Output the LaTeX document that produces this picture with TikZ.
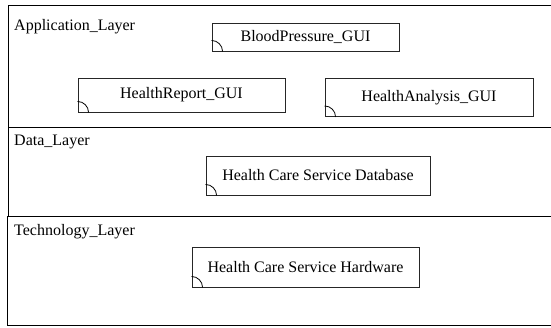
\documentclass[tikz,border=0pt]{standalone}
\usepackage{fontspec}
\setmainfont{Liberation Serif}
\begin{document}
\begin{tikzpicture}[x=1pt,y=1pt,
  layerbox/.style={draw=black, line width=0.9pt, anchor=north west, inner sep=0pt},
  layertitle/.style={anchor=west, inner sep=0pt, font=\fontsize{16}{19}\selectfont},
  artifact/.style={draw=black!85, line width=0.9pt, inner sep=0pt, font=\fontsize{16}{19}\selectfont},
  corner/.style={draw=black, line width=0.8pt}
]
\useasboundingbox (0,0) rectangle (551,327);
\clip (0,0) rectangle (551,327);
\fill[white] (0,0) rectangle (551,327);
% layers
\node[layerbox, minimum width=548pt, minimum height=122pt] (l1) at (8,322) {};
\node[layerbox, minimum width=548pt, minimum height=88.5pt] (l2) at (8,200) {};
\node[layerbox, minimum width=549pt, minimum height=109.5pt] (l3) at (7,111.5) {};
\node[layertitle] (t1) at (14,300) {Application\_Layer};
\node[layertitle] (t2) at (14,185.3) {Data\_Layer};
\node[layertitle] (t3) at (14,95.3) {Technology\_Layer};
% artifacts
\node[artifact, minimum width=187pt, minimum height=28pt] (bp) at (305.5,290) {BloodPressure\_GUI};
\node[artifact, minimum width=207pt, minimum height=34pt] (hr) at (181.5,232) {HealthReport\_GUI};
\node[artifact, minimum width=208pt, minimum height=38.5pt] (ha) at (429,229.75) {HealthAnalysis\_GUI};
\node[artifact, minimum width=224pt, minimum height=39pt] (db) at (318,151.5) {Health Care Service Database};
\node[artifact, minimum width=227pt, minimum height=40pt] (hw) at (305.5,60) {Health Care Service Hardware};
% corner arcs
\foreach \n in {bp,hr,ha,db,hw}{
  \draw[corner] ([yshift=11pt]\n.south west) arc[start angle=90, end angle=0, radius=11pt];
}
\end{tikzpicture}
\end{document}
